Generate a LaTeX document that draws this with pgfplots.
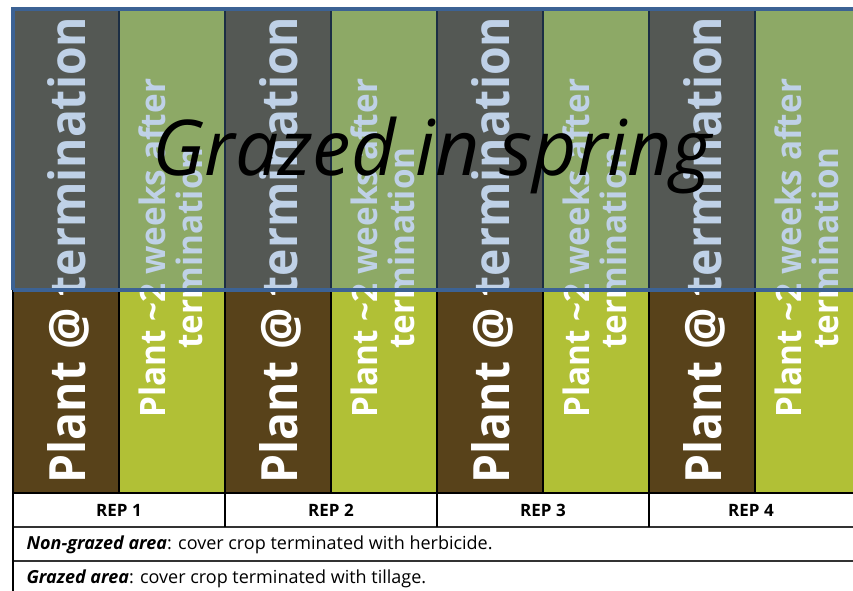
\documentclass[border=0pt]{standalone}
\usepackage{pgfplots}
\pgfplotsset{compat=1.18}
\usepackage{fontspec}
\setmainfont{Open Sans}
\definecolor{soil}{RGB}{88,66,26}
\definecolor{leaf}{RGB}{177,192,54}
\definecolor{veil}{RGB}{79,129,189}
\definecolor{veilborder}{RGB}{60,98,148}
\begin{document}
\begin{tikzpicture}
\begin{axis}[at={(0,0)}, anchor=south west, scale only axis, width=853pt, height=590pt,
  xmin=0, xmax=853, ymin=0, ymax=590, hide axis, clip=true]
% columns: plant at termination
\addplot[ybar, bar width=106, bar shift=0, fill=soil, draw=black, line width=1.2pt]
  coordinates {(66,580) (278,580) (490,580) (702,580)};
% columns: plant ~2 weeks after termination
\addplot[ybar, bar width=106, bar shift=0, fill=leaf, draw=black, line width=1.2pt]
  coordinates {(172,580) (384,580) (596,580) (808,580)};
% column labels
\foreach \cx in {68,280,492,704}{
  \edef\tmp{\noexpand\node[rotate=90, text=white, font=\noexpand\bfseries\noexpand\fontsize{50}{56}\noexpand\selectfont] at (axis cs:\cx,340) {\noexpand\scalebox{0.925}[1]{Plant @ termination}};}\tmp
}
\foreach \cx in {171,383,595,807}{
  \edef\tmp{\noexpand\node[rotate=90, text=white, align=center, font=\noexpand\bfseries\noexpand\fontsize{35}{37}\noexpand\selectfont] at (axis cs:\cx,342) {\noexpand\scalebox{0.95}[1]{Plant \noexpand\textasciitilde2 weeks after}\noexpand\\\noexpand\scalebox{0.95}[1]{termination}};}\tmp
}
% grazed overlay
\addplot[fill=veil, fill opacity=0.36, draw=veilborder, line width=3.6pt]
  coordinates {(13,300) (880,300) (880,581) (13,581) (13,300)};
\node[font=\itshape\fontsize{77}{84}\selectfont] at (axis cs:432,435) {Grazed in spring};
% table below
\addplot[fill=white, draw=none] coordinates {(13,-10) (880,-10) (880,96) (13,96)};
\addplot[black, line width=1.2pt] coordinates {(13,97) (880,97)};
\addplot[black!80, line width=1.2pt] coordinates {(13,63) (880,63)};
\addplot[black!80, line width=1.2pt] coordinates {(13,29) (880,29)};
\addplot[black, line width=1.2pt] coordinates {(13,-10) (13,97)};
\addplot[black, line width=1.2pt] coordinates {(225,63) (225,97)};
\addplot[black, line width=1.2pt] coordinates {(437,63) (437,97)};
\addplot[black, line width=1.2pt] coordinates {(649,63) (649,97)};
\node[font=\bfseries\fontsize{17}{20}\selectfont] at (axis cs:119,80) {REP 1};
\node[font=\bfseries\fontsize{17}{20}\selectfont] at (axis cs:331,80) {REP 2};
\node[font=\bfseries\fontsize{17}{20}\selectfont] at (axis cs:543,80) {REP 3};
\node[font=\bfseries\fontsize{17}{20}\selectfont] at (axis cs:751,80) {REP 4};
\node[anchor=west, font=\fontsize{18}{21}\selectfont] at (axis cs:23,45) {\textbf{\textit{Non-grazed area}}: cover crop terminated with herbicide.};
\node[anchor=west, font=\fontsize{18}{21}\selectfont] at (axis cs:23,11) {\textbf{\textit{Grazed area}}: cover crop terminated with tillage.};
\end{axis}
\pgfresetboundingbox
\path (0,0) rectangle (853pt,590pt);
\end{tikzpicture}
\end{document}
